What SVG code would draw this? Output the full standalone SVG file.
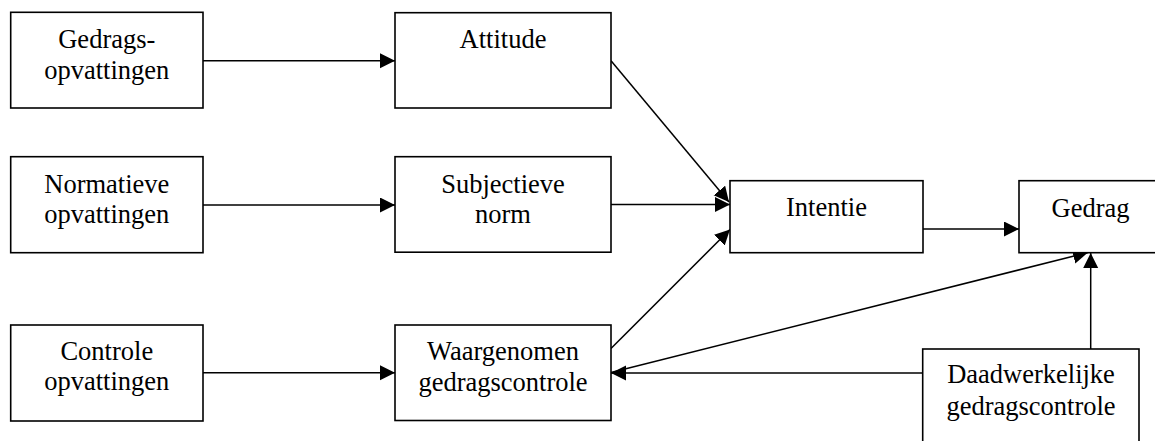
<svg xmlns="http://www.w3.org/2000/svg" width="1155" height="441" viewBox="0 0 1155 441">
<style>
.box{fill:#fff;stroke:#000;stroke-width:1.6}
.t{font-family:'Liberation Serif','Times New Roman',Times,'DejaVu Serif',serif;font-size:26.5px;fill:#000;text-anchor:middle}
.c{stroke:#000;stroke-width:1.5;fill:none;marker-end:url(#ah)}
</style>
<defs>
<marker id="ah" markerUnits="userSpaceOnUse" markerWidth="16" markerHeight="16" refX="15" refY="7.5" orient="auto">
<path d="M0,0 L15,7.5 L0,15 z" fill="#000"/>
</marker>
</defs>
<rect width="1155" height="441" fill="#fff"/>
<g id="connectors">
<line class="c" x1="203" y1="60.7" x2="395" y2="60.7"/>
<line class="c" x1="203" y1="205" x2="395" y2="205"/>
<line class="c" x1="203" y1="372.7" x2="395" y2="372.7"/>
<line class="c" x1="611" y1="60.7" x2="729" y2="202"/>
<line class="c" x1="611" y1="204.5" x2="730" y2="204.5"/>
<line class="c" x1="611" y1="348.5" x2="730" y2="229.5"/>
<line class="c" x1="923" y1="229" x2="1019" y2="229"/>
<line class="c" x1="611" y1="372.5" x2="1088" y2="252.5"/>
<line class="c" x1="1090.7" y1="349" x2="1090.7" y2="253"/>
<line class="c" x1="922.7" y1="373" x2="611" y2="373"/>
</g>
<g id="gedragsopvattingen">
<rect class="box" x="10.7" y="12.3" width="192.3" height="95.7"/>
<text class="t" x="106.8" y="48">Gedrags-</text>
<text class="t" x="106.8" y="79">opvattingen</text>
</g>
<g id="normatieve">
<rect class="box" x="10.7" y="156.7" width="192.3" height="96"/>
<text class="t" x="106.8" y="192.7">Normatieve</text>
<text class="t" x="106.8" y="222.7">opvattingen</text>
</g>
<g id="controle">
<rect class="box" x="10.7" y="325" width="192.3" height="96"/>
<text class="t" x="106.8" y="360">Controle</text>
<text class="t" x="106.8" y="390">opvattingen</text>
</g>
<g id="attitude">
<rect class="box" x="395" y="12.7" width="216" height="95.3"/>
<text class="t" x="503" y="48">Attitude</text>
</g>
<g id="subjectieve-norm">
<rect class="box" x="395" y="156.7" width="216" height="95.5"/>
<text class="t" x="503" y="192.7">Subjectieve</text>
<text class="t" x="503" y="222.7">norm</text>
</g>
<g id="waargenomen">
<rect class="box" x="395" y="325" width="216" height="95.5"/>
<text class="t" x="503" y="360">Waargenomen</text>
<text class="t" x="503" y="391">gedragscontrole</text>
</g>
<g id="intentie">
<rect class="box" x="730" y="180.7" width="193" height="72"/>
<text class="t" x="826.5" y="216">Intentie</text>
</g>
<g id="gedrag">
<rect class="box" x="1019" y="180.7" width="142" height="72"/>
<text class="t" x="1090.5" y="217">Gedrag</text>
</g>
<g id="daadwerkelijke">
<rect class="box" x="922.7" y="349" width="216.3" height="100"/>
<text class="t" x="1031" y="383">Daadwerkelijke</text>
<text class="t" x="1031" y="415">gedragscontrole</text>
</g>
</svg>
